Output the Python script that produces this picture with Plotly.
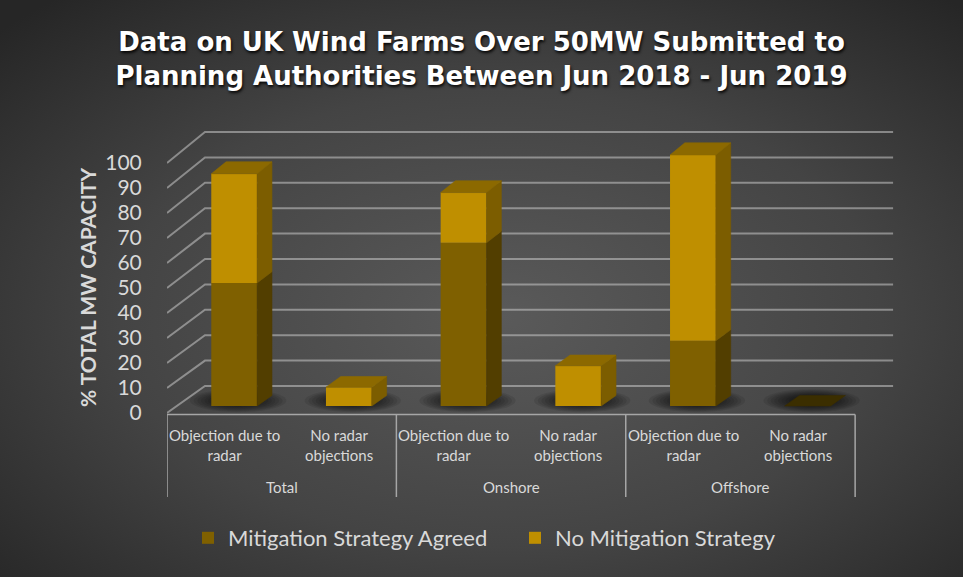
import base64
import plotly.graph_objects as go

# ---- data -------------------------------------------------------------
groups = ["Total", "Onshore", "Offshore"]
subcats = ["Objection due to<br>radar", "No radar<br>objections"]
agreed = [49, 0, 65, 0, 26, 0]            # Mitigation Strategy Agreed (%)
no_mitigation = [43.5, 7.5, 20, 16, 74, 0]  # No Mitigation Strategy (%)
y_ticks = list(range(0, 101, 10))

# ---- figure geometry ----------------------------------------------------
W, H = 963, 577
M_L, M_R, M_T, M_B = 167, 62, 110, 72
X_RANGE = [-0.5, 5.9]
Y_RANGE = [-36.8, 121.2]
PLOT_W = W - M_L - M_R
PLOT_H = H - M_T - M_B

# oblique "3-D" projection: depth shifts points right and up
DEPTH_X = 0.331
DEPTH_Y0 = 10.8
DEPTH_YK = 0.016
F0, F1 = 0.26, 0.65   # bar front / back depth fraction
BW = 0.40             # bar width

AGREED, AGREED_SIDE, AGREED_TOP = "#7F6000", "#523E00", "#6B5100"
NOMIT, NOMIT_SIDE, NOMIT_TOP = "#BF8F00", "#7C5D00", "#8C6900"
EMPTY_TOP = "#3B2E00"
TEXT = "#D9D9D9"
GRID = "rgba(200,200,200,0.55)"
AXIS = "#A6A6A6"
FONT = "Lato"


def dy(v):
    return DEPTH_Y0 + DEPTH_YK * v


def pt(x, v, f):
    return x + f * DEPTH_X, v + f * dy(v)


n_slots = len(groups) * len(subcats)
slots = list(range(n_slots))

fig = go.Figure()

# ---- walls, floor and category axis (drawn beneath the bars) ------------
shapes = []
for v in y_ticks:
    x0, y0 = pt(-0.5, v, 0)
    x1, y1 = pt(-0.5, v, 1)
    x2, y2 = pt(n_slots - 0.5, v, 1)
    shapes.append(dict(type="path", xref="x", yref="y", layer="below",
                       path=f"M{x0},{y0} L{x1},{y1} L{x2},{y2}",
                       line=dict(color=GRID, width=2)))

# soft floor shadows around each bar foot
for i in slots:
    cx, cy = pt(i - 0.03, 0, (F0 + F1) / 2)
    n_layers = 9
    for k in range(n_layers):
        scale = 1.0 - 0.075 * k
        hw = 0.42 * scale
        hh = 4.6 * scale
        shapes.append(dict(type="circle", xref="x", yref="y", layer="below",
                           x0=cx - hw, x1=cx + hw, y0=cy - hh, y1=cy + hh,
                           fillcolor="rgba(0,0,0,0.09)", line=dict(width=0)))

# category axis: baseline and group dividers
shapes.append(dict(type="line", xref="x", yref="y", layer="below",
                   x0=-0.5, x1=n_slots - 0.5, y0=-0.6, y1=-0.6,
                   line=dict(color=AXIS, width=1.5)))
for k in range(len(groups) + 1):
    xd = -0.5 + k * len(subcats)
    shapes.append(dict(type="line", xref="x", yref="y", layer="below",
                       x0=xd, x1=xd, y0=-0.6, y1=-33.6,
                       line=dict(color=AXIS, width=1.5)))

# ---- bar front faces ----------------------------------------------------
bar_x = [i + F0 * DEPTH_X for i in slots]
base_a = [F0 * dy(0) for _ in slots]
top_a = [a + F0 * dy(a) for a in agreed]
top_n = [a + n + F0 * dy(a + n) for a, n in zip(agreed, no_mitigation)]

fig.add_trace(go.Bar(
    x=bar_x, y=[t - b for t, b in zip(top_a, base_a)], base=base_a,
    width=BW, marker=dict(color=AGREED, line=dict(width=0)),
    name="Mitigation Strategy Agreed", hoverinfo="skip"))
fig.add_trace(go.Bar(
    x=bar_x, y=[t - b for t, b in zip(top_n, top_a)], base=top_a,
    width=BW, marker=dict(color=NOMIT, line=dict(width=0)),
    name="No Mitigation Strategy", hoverinfo="skip"))


def face(xs, ys, color):
    fig.add_trace(go.Scatter(
        x=xs + [xs[0]], y=ys + [ys[0]], mode="lines", fill="toself",
        fillcolor=color, line=dict(color=color, width=0.6),
        showlegend=False, hoverinfo="skip"))


# ---- bar side and top faces --------------------------------------------
for i, a, n in zip(slots, agreed, no_mitigation):
    xl = i - BW / 2
    xr = i + BW / 2
    segments = [(0, a, AGREED_SIDE), (a, a + n, NOMIT_SIDE)]
    for v0, v1, col in segments:
        if v1 <= v0:
            continue
        p1 = pt(xr, v0, F0)
        p2 = pt(xr, v0, F1)
        p3 = pt(xr, v1, F1)
        p4 = pt(xr, v1, F0)
        face([p1[0], p2[0], p3[0], p4[0]], [p1[1], p2[1], p3[1], p4[1]], col)
    v = a + n
    top_col = NOMIT_TOP if n > 0 else (AGREED_TOP if a > 0 else EMPTY_TOP)
    q1 = pt(xl, v, F0)
    q2 = pt(xr, v, F0)
    q3 = pt(xr, v, F1)
    q4 = pt(xl, v, F1)
    face([q1[0], q2[0], q3[0], q4[0]], [q1[1], q2[1], q3[1], q4[1]], top_col)

# ---- category labels ----------------------------------------------------
annotations = []
for g, grp in enumerate(groups):
    for s, sub in enumerate(subcats):
        annotations.append(dict(x=g * len(subcats) + s, y=-12.6, xref="x", yref="y",
                                text=sub, showarrow=False,
                                font=dict(family=FONT, size=15, color=TEXT)))
    annotations.append(dict(x=g * len(subcats) + 0.5, y=-29.6, xref="x", yref="y",
                            text=grp, showarrow=False,
                            font=dict(family=FONT, size=15, color=TEXT)))

annotations.append(dict(x=(87 - M_L) / PLOT_W, y=(H - M_B - 288) / PLOT_H,
                        xref="paper", yref="paper", xanchor="center", yanchor="middle",
                        text="% TOTAL MW CAPACITY",
                        textangle=-90, showarrow=False,
                        font=dict(family=FONT, size=21, color=TEXT, weight="bold")))

# ---- background radial gradient ----------------------------------------
svg = f"""<svg xmlns="http://www.w3.org/2000/svg" width="{W}" height="{H}" viewBox="0 0 {W} {H}" preserveAspectRatio="none">
<defs><radialGradient id="g" cx="52%" cy="55%" r="72%">
<stop offset="0" stop-color="#5a5a5a"/><stop offset="0.55" stop-color="#444444"/><stop offset="1" stop-color="#262626"/>
</radialGradient></defs>
<rect width="{W}" height="{H}" fill="url(#g)"/></svg>"""
bg_src = "data:image/svg+xml;base64," + base64.b64encode(svg.encode()).decode()

fig.update_layout(
    width=W, height=H,
    margin=dict(l=M_L, r=M_R, t=M_T, b=M_B, autoexpand=False),
    paper_bgcolor="#333333", plot_bgcolor="rgba(0,0,0,0)",
    barmode="overlay",
    title=dict(text="Data on UK Wind Farms Over 50MW Submitted to<br>Planning Authorities Between Jun 2018 - Jun 2019",
               x=0.5, xref="container", xanchor="center",
               y=1 - 51 / H, yref="container", yanchor="middle",
               font=dict(family="DejaVu Sans", size=26, color="#FFFFFF", weight="bold",
                         shadow="1px 2px 3px rgba(0,0,0,0.9)")),
    xaxis=dict(range=X_RANGE, visible=False, fixedrange=True),
    yaxis=dict(range=Y_RANGE, tickvals=y_ticks, showgrid=False, zeroline=False,
               showline=False, ticks="outside", ticklen=20,
               tickcolor="rgba(0,0,0,0)", fixedrange=True,
               tickfont=dict(family=FONT, size=21, color=TEXT)),
    legend=dict(orientation="h", x=(515 - M_L) / PLOT_W, xanchor="center",
                y=(H - M_B - 538) / PLOT_H, yanchor="middle",
                entrywidth=282, entrywidthmode="pixels",
                bgcolor="rgba(0,0,0,0)", traceorder="normal",
                font=dict(family=FONT, size=22, color=TEXT)),
    shapes=shapes,
    annotations=annotations,
    images=[dict(source=bg_src, xref="paper", yref="paper",
                 x=-M_L / PLOT_W, y=1 + M_T / PLOT_H,
                 sizex=W / PLOT_W, sizey=H / PLOT_H,
                 xanchor="left", yanchor="top", sizing="stretch", layer="below")],
    showlegend=True,
)

fig.write_html("out.html")
